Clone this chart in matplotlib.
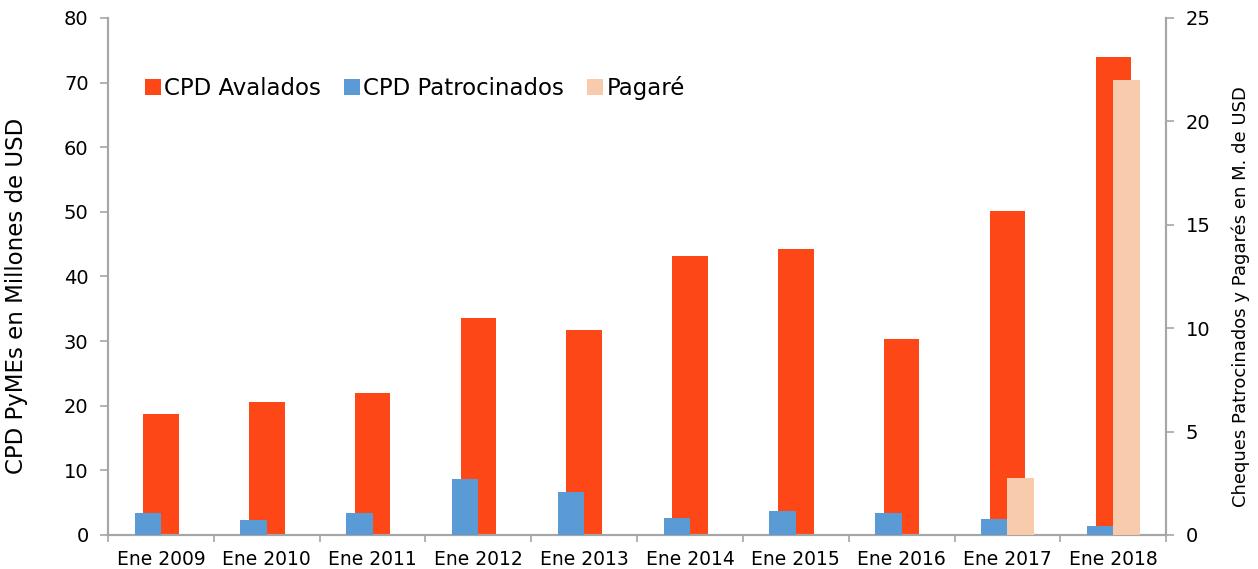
import matplotlib
matplotlib.use("Agg")
import matplotlib.pyplot as plt
import numpy as np

categories = ["Ene 2009", "Ene 2010", "Ene 2011", "Ene 2012", "Ene 2013",
              "Ene 2014", "Ene 2015", "Ene 2016", "Ene 2017", "Ene 2018"]
cpd_avalados = [18.7, 20.6, 22.0, 33.6, 31.7, 43.2, 44.3, 30.3, 50.2, 74.0]
cpd_patrocinados = [1.06, 0.72, 1.06, 2.69, 2.09, 0.82, 1.16, 1.06, 0.79, 0.45]
pagare = [0, 0, 0, 0, 0, 0, 0, 0, 2.75, 22.0]

c_red = "#FE4716"
c_blue = "#5B9BD5"
c_peach = "#F8CBAD"
c_spine = "#A6A6A6"

plt.rcParams['font.family'] = ['DejaVu Sans']

fig = plt.figure(figsize=(12.58, 5.69), dpi=100)
ax = fig.add_axes([0.0859, 0.0598, 0.8411, 0.9086])
ax2 = ax.twinx()

x = np.arange(len(categories))
ax.bar(x, cpd_avalados, width=0.335, color=c_red, label="CPD Avalados", zorder=2)
ax2.bar(x - 0.125, cpd_patrocinados, width=0.25, color=c_blue, label="CPD Patrocinados", zorder=3)
pag_idx = [i for i, v in enumerate(pagare) if v > 0]
ax2.bar(x[pag_idx] + 0.125, [pagare[i] for i in pag_idx], width=0.25, color=c_peach,
        label="Pagaré", zorder=3)

ax.set_xlim(-0.5, len(categories) - 0.5)
ax.set_ylim(0, 80)
ax2.set_ylim(0, 25)
ax.set_yticks(np.arange(0, 81, 10))
ax2.set_yticks(np.arange(0, 26, 5))

ax.set_xticks(x)
ax.set_xticklabels(categories, fontsize=13.5)
ax.set_xticks(np.arange(-0.5, len(categories), 1), minor=True)
ax.tick_params(axis='x', which='major', length=0, pad=11)
ax.tick_params(axis='x', which='minor', length=5, color=c_spine, width=1.2)
ax.tick_params(axis='y', length=6, color=c_spine, width=1.2, labelsize=14, pad=8)
ax2.tick_params(axis='y', length=6, color=c_spine, width=1.2, labelsize=14, pad=8)

for a in (ax, ax2):
    a.spines['top'].set_visible(False)
    for s in ('left', 'right', 'bottom'):
        a.spines[s].set_color(c_spine)
        a.spines[s].set_linewidth(1.5)

ax.set_ylabel("CPD PyMEs en Millones de USD", fontsize=16.5)
ax2.set_ylabel("Cheques Patrocinados y Pagarés en M. de USD", fontsize=13)
ax.yaxis.set_label_coords(-0.0756, 0.462)
ax2.yaxis.set_label_coords(1.062, 0.462)

h1, l1 = ax.get_legend_handles_labels()
h2, l2 = ax2.get_legend_handles_labels()
ax2.legend(h1 + h2, l1 + l2, loc='upper left', bbox_to_anchor=(0.015, 0.927), ncol=3,
           frameon=False, fontsize=16.5, handlelength=0.7, handleheight=0.7,
           handletextpad=0.15, columnspacing=1.0)

fig.savefig("out.png", dpi=100)
